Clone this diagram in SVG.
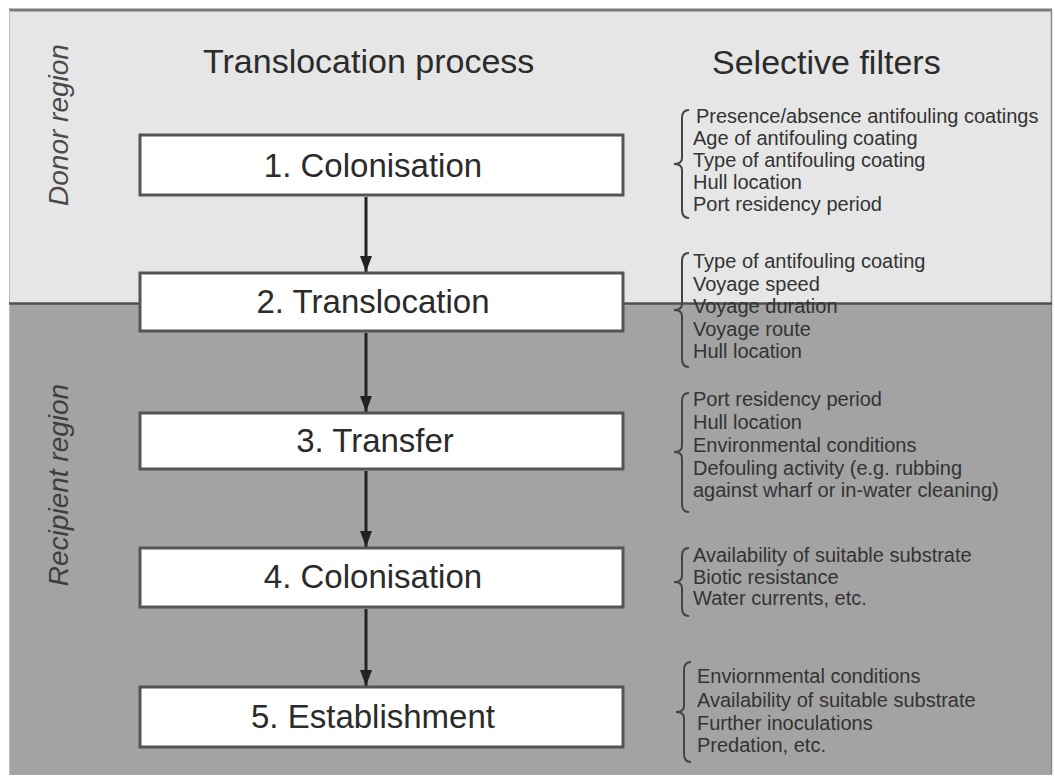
<svg xmlns="http://www.w3.org/2000/svg" width="1055" height="780" viewBox="0 0 1055 780">
  <defs>
    <marker id="arrowhead" viewBox="0 0 16 12" refX="16" refY="6" markerWidth="16" markerHeight="12" markerUnits="userSpaceOnUse" orient="auto">
      <path d="M0,0 L16,6 L0,12 Z" fill="#222"/>
    </marker>
  </defs>
  <style>
    text { font-family: "Liberation Sans", Arial, sans-serif; fill: #2b2b2b; }
    .header { font-size: 34px; }
    .region { font-size: 28px; font-style: italic; fill: #4a4a4a; }
    .box rect { fill: #ffffff; stroke: #555555; stroke-width: 3; }
    .box text { font-size: 33px; text-anchor: middle; }
    .filters text { font-size: 20px; fill: #333333; }
    .filters path { fill: none; stroke: #444444; stroke-width: 2; }
    .connectors line { stroke: #222222; stroke-width: 3; }
  </style>

  <!-- page background -->
  <rect x="0" y="0" width="1055" height="780" fill="#ffffff"/>
  <!-- donor region band -->
  <rect x="9" y="10" width="1043" height="294" fill="#e6e6e6"/>
  <!-- recipient region band -->
  <rect x="9" y="304" width="1043" height="471" fill="#a3a3a3"/>
  <!-- frame edges -->
  <line x1="9" y1="10" x2="1052" y2="10" stroke="#7a7a7a" stroke-width="3"/>
  <line x1="9.5" y1="10" x2="9.5" y2="775" stroke="#bdbdbd" stroke-width="1"/>
  <line x1="1051.5" y1="10" x2="1051.5" y2="775" stroke="#8a8a8a" stroke-width="1.5"/>
  <!-- boundary between donor and recipient region -->
  <line x1="9" y1="303.5" x2="1052" y2="303.5" stroke="#505050" stroke-width="2.5"/>

  <!-- side labels -->
  <text class="region" transform="translate(68,125) rotate(-90)" text-anchor="middle">Donor region</text>
  <text class="region" transform="translate(68,485) rotate(-90)" text-anchor="middle" style="fill:#3f3f3f">Recipient region</text>

  <!-- column headers -->
  <text class="header" x="203" y="73">Translocation process</text>
  <text class="header" x="712" y="74">Selective filters</text>

  <!-- connectors -->
  <g id="connectors" class="connectors">
    <line x1="366" y1="197" x2="366" y2="272" marker-end="url(#arrowhead)"/>
    <line x1="366" y1="333" x2="366" y2="412" marker-end="url(#arrowhead)"/>
    <line x1="366" y1="471" x2="366" y2="547" marker-end="url(#arrowhead)"/>
    <line x1="366" y1="609" x2="366" y2="686" marker-end="url(#arrowhead)"/>
  </g>

  <!-- process steps -->
  <g id="step1" class="box">
    <rect x="140" y="135" width="483" height="60"/>
    <text x="373" y="177">1. Colonisation</text>
  </g>
  <g id="step2" class="box">
    <rect x="140" y="273" width="483" height="58"/>
    <text x="373" y="313">2. Translocation</text>
  </g>
  <g id="step3" class="box">
    <rect x="140" y="413" width="483" height="56"/>
    <text x="375" y="452">3. Transfer</text>
  </g>
  <g id="step4" class="box">
    <rect x="140" y="548" width="483" height="59"/>
    <text x="373" y="588">4. Colonisation</text>
  </g>
  <g id="step5" class="box">
    <rect x="140" y="687" width="483" height="60"/>
    <text x="373" y="728">5. Establishment</text>
  </g>

  <!-- filter lists with braces -->
  <g id="filters1" class="filters">
    <path d="M689,110 Q682,110 682,118 L682,158 Q682,164 674,164 Q682,164 682,170 L682,210 Q682,218 689,218"/>
    <text x="696" y="123">Presence/absence antifouling coatings</text>
    <text x="693" y="145">Age of antifouling coating</text>
    <text x="693" y="167">Type of antifouling coating</text>
    <text x="693" y="189">Hull location</text>
    <text x="693" y="211">Port residency period</text>
  </g>
  <g id="filters2" class="filters">
    <path d="M689,253 Q682,253 682,261 L682,304 Q682,310 674,310 Q682,310 682,316 L682,359 Q682,367 689,367"/>
    <text x="693" y="268">Type of antifouling coating</text>
    <text x="693" y="290.5">Voyage speed</text>
    <text x="693" y="313">Voyage duration</text>
    <text x="693" y="335.5">Voyage route</text>
    <text x="693" y="358">Hull location</text>
  </g>
  <g id="filters3" class="filters">
    <path d="M689,393 Q682,393 682,401 L682,446 Q682,452 674,452 Q682,452 682,458 L682,504 Q682,512 689,512"/>
    <text x="693" y="406">Port residency period</text>
    <text x="693" y="428.5">Hull location</text>
    <text x="693" y="451.5">Environmental conditions</text>
    <text x="693" y="474.5">Defouling activity (e.g. rubbing</text>
    <text x="693" y="497">against wharf or in-water cleaning)</text>
  </g>
  <g id="filters4" class="filters">
    <path d="M689,548 Q682,548 682,556 L682,576 Q682,582 674,582 Q682,582 682,588 L682,608 Q682,616 689,616"/>
    <text x="693" y="562">Availability of suitable substrate</text>
    <text x="693" y="583.5">Biotic resistance</text>
    <text x="693" y="605">Water currents, etc.</text>
  </g>
  <g id="filters5" class="filters">
    <path d="M691,662 Q684,662 684,670 L684,706 Q684,712 676,712 Q684,712 684,718 L684,754 Q684,762 691,762"/>
    <text x="697" y="683">Enviornmental conditions</text>
    <text x="697" y="707">Availability of suitable substrate</text>
    <text x="697" y="730">Further inoculations</text>
    <text x="697" y="752">Predation, etc.</text>
  </g>
</svg>
